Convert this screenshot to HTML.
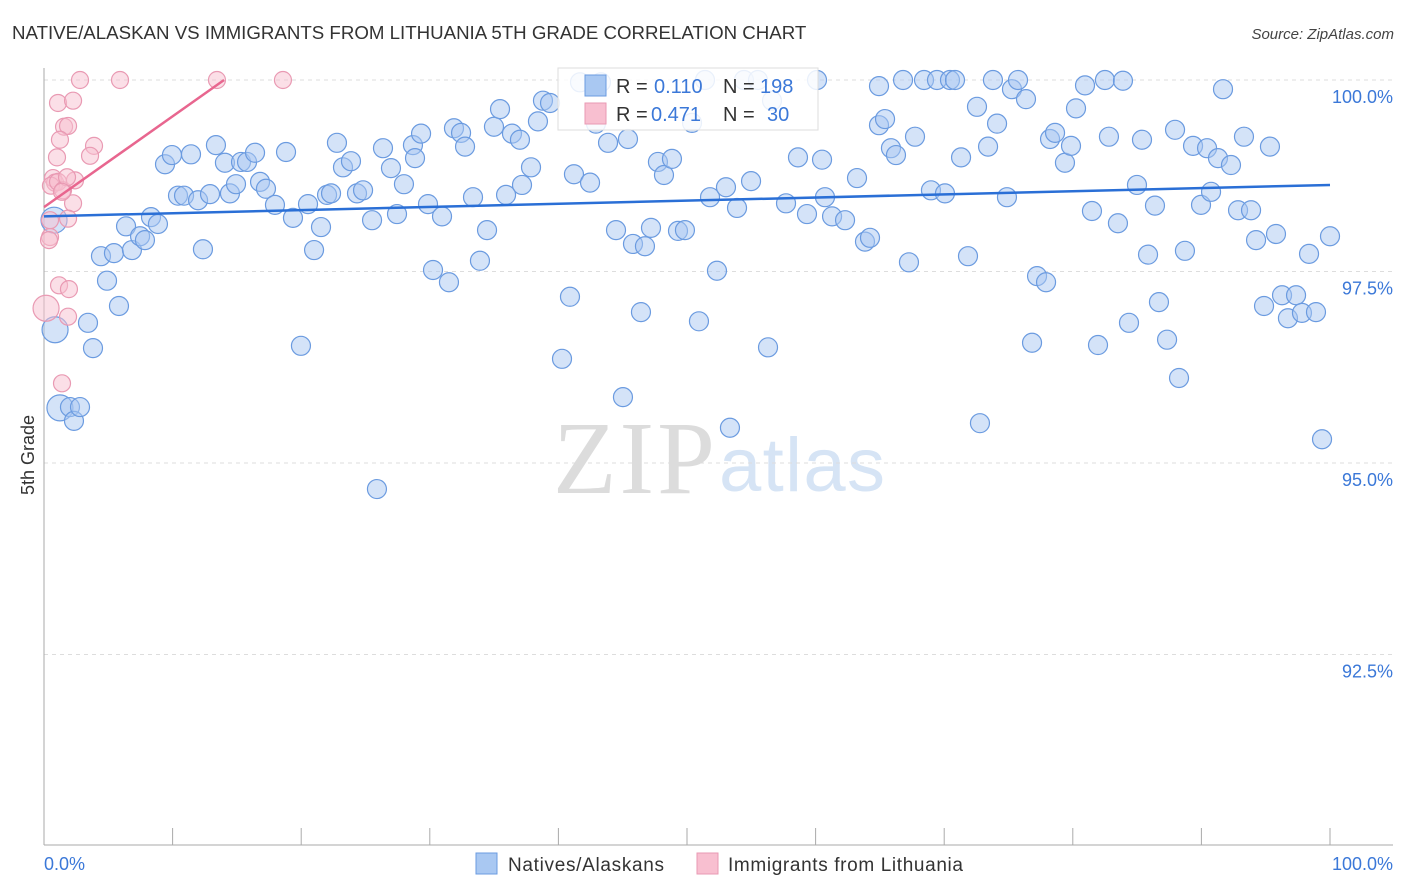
<!DOCTYPE html>
<html><head><meta charset="utf-8"><style>
body{margin:0;background:#fff;font-family:"Liberation Sans",sans-serif;}
</style></head><body>
<svg id="chart" width="1406" height="892" xmlns="http://www.w3.org/2000/svg" style="display:block">
<text x="12" y="39" font-size="18.7" fill="#333">NATIVE/ALASKAN VS IMMIGRANTS FROM LITHUANIA 5TH GRADE CORRELATION CHART</text>
<text x="1394" y="39" font-size="15" fill="#444" text-anchor="end" font-style="italic">Source: ZipAtlas.com</text>
<g>
<text x="553" y="493" font-size="104" fill="#dcdcdc" font-family="Liberation Serif, serif" textLength="162">ZIP</text>
<text x="719" y="491" font-size="76" fill="#d6e4f5" textLength="166">atlas</text>
</g>
<g id="grid"></g>
<g id="axes"></g>
<g id="pts"></g>
<g id="trends"></g>
<text transform="translate(34,455) rotate(-90)" font-size="18" fill="#333" text-anchor="middle">5th Grade</text>
<text x="44" y="870" font-size="18" fill="#3b78d8">0.0%</text>
<text x="1393" y="870" font-size="18" fill="#3b78d8" text-anchor="end">100.0%</text>
<g>
<rect x="558" y="68" width="260" height="62" fill="#fff" fill-opacity="0.85" stroke="#ddd"/>
<rect x="585" y="75" width="21" height="21" fill="#a9c8f2" stroke="#6b9be0"/>
<rect x="585" y="103" width="21" height="21" fill="#f8bfd0" stroke="#e99ab3"/>
<text x="616" y="93" font-size="20" fill="#333">R =</text>
<text x="654" y="93" font-size="20" fill="#3b78d8">0.110</text>
<text x="723" y="93" font-size="20" fill="#333">N =</text>
<text x="760" y="93" font-size="20" fill="#3b78d8">198</text>
<text x="616" y="121" font-size="20" fill="#333">R =</text>
<text x="651" y="121" font-size="20" fill="#3b78d8">0.471</text>
<text x="723" y="121" font-size="20" fill="#333">N =</text>
<text x="767" y="121" font-size="20" fill="#3b78d8">30</text>
</g>
<g>
<rect x="476" y="853" width="21" height="21" fill="#a9c8f2" stroke="#6b9be0"/>
<text x="508" y="871" font-size="19" fill="#333" textLength="156">Natives/Alaskans</text>
<rect x="697" y="853" width="21" height="21" fill="#f8bfd0" stroke="#e99ab3"/>
<text x="728" y="871" font-size="19" fill="#333" textLength="235">Immigrants from Lithuania</text>
</g>
</svg>
<script>
const blueX=[0.78,0.86,1.24,2.02,2.33,2.80,3.42,3.81,4.43,4.90,5.44,5.83,6.38,6.84,7.47,7.85,8.32,8.86,9.41,9.95,10.42,10.89,11.43,12.36,11.98,12.91,13.37,14.07,14.46,14.93,15.32,15.79,16.41,16.80,17.26,17.96,18.82,19.36,19.98,20.53,21.00,21.54,22.01,22.32,22.78,23.25,23.87,24.34,24.81,25.51,25.89,26.36,26.98,27.45,27.99,28.69,28.85,29.32,29.86,30.25,30.95,31.49,31.88,32.43,32.74,33.36,33.90,34.45,34.99,35.46,35.93,36.39,37.01,37.17,37.87,38.41,38.80,39.35,40.28,40.90,41.21,41.68,42.46,42.92,43.31,43.86,44.48,45.02,45.41,45.80,46.42,46.73,47.20,47.74,48.21,48.83,49.30,49.84,50.39,50.93,51.40,51.79,52.33,53.03,53.34,53.89,54.43,54.98,55.52,56.30,56.61,57.70,58.63,59.33,60.11,60.50,60.73,61.28,62.29,63.22,63.84,64.23,64.93,64.93,65.40,65.86,66.25,66.80,67.26,67.73,68.43,68.97,69.44,70.06,70.45,70.84,71.31,71.85,72.55,72.78,73.41,73.79,74.11,74.88,75.27,75.74,76.36,76.83,77.22,77.92,78.23,78.62,79.39,79.86,80.25,80.95,81.49,81.96,82.50,82.81,83.51,83.90,84.37,84.99,85.38,85.85,86.39,86.70,87.33,87.95,88.26,88.72,89.35,89.97,90.44,90.75,91.29,91.68,92.30,92.85,93.31,93.86,94.25,94.87,95.33,95.80,96.27,96.73,97.36,97.82,98.37,98.91,99.38,100.0];
const blueY=[98.17,96.74,95.72,95.73,95.55,95.73,96.83,96.50,97.70,97.38,97.74,97.05,98.09,97.78,97.96,97.91,98.21,98.12,98.90,99.02,98.49,98.49,99.03,97.79,98.43,98.51,99.15,98.92,98.52,98.64,98.93,98.93,99.05,98.67,98.58,98.37,99.06,98.20,96.53,98.38,97.78,98.08,98.50,98.52,99.18,98.86,98.94,98.52,98.56,98.17,94.66,99.11,98.85,98.25,98.64,99.15,98.98,99.30,98.38,97.52,98.22,97.36,99.37,99.31,99.13,98.47,97.64,98.04,99.39,99.62,98.50,99.30,99.22,98.63,98.86,99.46,99.73,99.70,96.36,97.17,98.77,99.97,98.66,99.43,99.97,99.18,98.04,95.86,99.23,97.86,96.97,97.83,98.07,98.93,98.76,98.97,98.03,98.04,99.44,96.85,100,98.47,97.51,98.60,95.46,98.33,100,98.68,100,96.51,99.73,98.39,98.99,98.25,100,98.96,98.47,98.22,98.17,98.72,97.89,97.94,99.92,99.41,99.49,99.11,99.02,100,97.62,99.26,100,98.56,100,98.52,100,100,98.99,97.70,99.65,95.52,99.13,100,99.43,98.47,99.88,100,99.75,96.57,97.44,97.36,99.23,99.31,98.92,99.14,99.63,99.93,98.29,96.54,100,99.26,98.13,99.99,96.83,98.63,99.22,97.72,98.36,97.10,96.61,99.35,96.11,97.77,99.14,98.37,99.11,98.54,98.98,99.88,98.89,98.30,99.26,98.30,97.91,97.05,99.13,97.99,97.19,96.89,97.19,96.96,97.73,96.97,95.31,97.96];
const blueBig=[0,1,2];
const pinkX=[2.80,5.91,13.45,18.58,1.09,2.26,1.56,1.87,1.24,3.89,3.58,1.01,0.70,0.86,0.54,1.09,1.48,2.41,1.79,2.26,1.40,1.87,0.47,0.39,1.17,1.94,0.16,1.87,1.40,0.47];
const pinkY=[100,100,100,100,99.70,99.73,99.39,99.40,99.22,99.14,99.01,98.99,98.72,98.66,98.62,98.67,98.56,98.69,98.73,98.39,98.54,98.19,97.95,97.91,97.32,97.27,97.02,96.91,96.04,98.17];
const pinkBig=[26];
const blueTrend=[0,98.22,100,98.63];
const pinkTrend=[0,98.34,14.0,100];
const yTicks=[100,97.5,95,92.5];
const yTickLabels=["100.0%","97.5%","95.0%","92.5%"];
const xTicks=[10,20,30,40,50,60,70,80,90,100];

const NS="http://www.w3.org/2000/svg";
const X0=44,X1=1330,YT=80,PPY=76.6;
function sx(v){return X0+(X1-X0)*v/100;}
function sy(v){return YT+(100-v)*PPY;}
function mk(tag,attrs,parent){const e=document.createElementNS(NS,tag);for(const k in attrs)e.setAttribute(k,attrs[k]);parent.appendChild(e);return e;}
const grid=document.getElementById('grid'),axes=document.getElementById('axes'),pts=document.getElementById('pts'),tr=document.getElementById('trends');
yTicks.forEach((t,i)=>{
 const l=mk('line',{x1:X0,x2:1393,y1:sy(t),y2:sy(t),stroke:'#ddd','stroke-dasharray':'4 4'},grid);
 
 
 const tx=mk('text',{x:1393,y:sy(t)+23,'font-size':18,fill:'#3b78d8','text-anchor':'end'},grid);
 tx.textContent=yTickLabels[i];
 
 
});
const ya=mk('line',{x1:X0,x2:X0,y1:68,y2:845,stroke:'#aaa'},axes);


const xa=mk('line',{x1:X0,x2:1393,y1:845,y2:845,stroke:'#aaa'},axes);


xTicks.forEach(t=>{
 const l=mk('line',{x1:sx(t),x2:sx(t),y1:828,y2:845,stroke:'#aaa'},axes);
 
 
});
blueX.forEach((x,i)=>{
 const c=mk('circle',{cx:sx(x),cy:sy(blueY[i]),r:blueBig.includes(i)?13:9.5,fill:'#a9c8f2','fill-opacity':0.5,stroke:'#6b9be0','stroke-width':1.2},pts);
 
 
});
pinkX.forEach((x,i)=>{
 const c=mk('circle',{cx:sx(x),cy:sy(pinkY[i]),r:pinkBig.includes(i)?13:8.5,fill:'#f8bfd0','fill-opacity':0.5,stroke:'#e99ab3','stroke-width':1.2},pts);
 
 
});
const bl=mk('line',{x1:sx(blueTrend[0]),y1:sy(blueTrend[1]),x2:sx(blueTrend[2]),y2:sy(blueTrend[3]),stroke:'#2a6fd6','stroke-width':2.5},tr);


const pl=mk('line',{x1:sx(pinkTrend[0]),y1:sy(pinkTrend[1]),x2:sx(pinkTrend[2]),y2:sy(pinkTrend[3]),stroke:'#e8668f','stroke-width':2.5},tr);


</script>
</body></html>
